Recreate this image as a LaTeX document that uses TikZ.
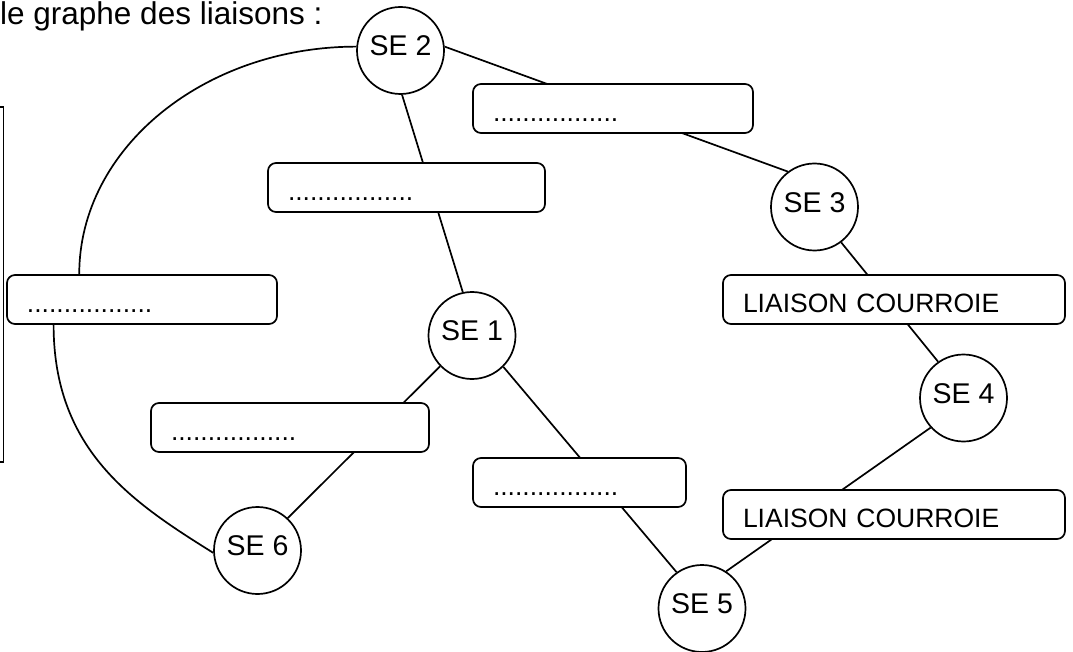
\documentclass[tikz,border=0pt]{standalone}
\usepackage{fontspec}
\setmainfont{Liberation Sans}
\usepackage{tikz}
\usetikzlibrary{positioning,backgrounds}

\tikzset{
	se/.style={draw, circle, fill=white, line width=1.7pt,
		minimum size=87pt, inner sep=0pt,
		font=\fontsize{28.5}{34}\selectfont,
		text height=20.5pt, text depth=10pt},
	liaison/.style={draw, rounded corners=8pt, fill=white, line width=1.7pt,
		inner xsep=20pt, inner ysep=0pt, align=left,
		text height=37.5pt, text depth=11.5pt,
		font=\fontsize{26.5}{32}\selectfont},
	trait/.style={line width=1.7pt}
}

\begin{document}
\begin{tikzpicture}[x=1pt, y=-1pt]
			\useasboundingbox (0,0) rectangle (1073,652);
			
			% Titre
			\node [anchor=base west,
				inner sep=0pt,
				font=\fontsize{31.5}{38}\selectfont
				] (titre) at (0,24.5) {le graphe des liaisons :};
			
			% cadre coupe a gauche
			\draw[trait] (0,107) -- (3.5,107) -- (3.5,462) -- (0,462);
			
			% Sous-ensembles
			\node [se] (se2) at (400.5,50.5) {SE 2};
			\node [se] (se1) at (472,335.5) {SE 1};
			\node [se] (se3) at (814.5,207) {SE 3};
			\node [se] (se4) at (963.5,398) {SE 4};
			\node [se] (se5) at (702,608.5) {SE 5};
			\node [se] (se6) at (257.5,550.5) {SE 6};
			
			% Liaisons SE 2
			\node [liaison,
				text width=240pt
				] (l23) at (613,108.5) {.................};
			\node [liaison,
				text width=237pt
				] (l12) at (406.5,187.5) {.................};
			\node [liaison,
				text width=230pt
				] (l26) at (142,299.5) {.................};
			
			% Liaisons SE 1
			\node [liaison,
				text width=238pt
				] (l16) at (290,427.5) {.................};
			\node [liaison,
				text width=173pt
				] (l15) at (579.5,482.5) {.................};
			
			% Courroies
			\node [liaison,
				text width=302pt
				] (l34) at (894,299.5) {LIAISON COURROIE};
			\node [liaison,
				text width=302pt
				] (l45) at (894,514.5) {LIAISON COURROIE};
			
			% Traits
			\begin{pgfonlayer}{background}
			\draw[trait] (se2.5) -- (se3.127);
			\draw[trait] (se2.272) -- (se1.102);
			\draw[trait] (se1.224) -- (se6.47);
			\draw[trait] (se1.315) -- (se5.125);
			\draw[trait] (se3.307) -- (se4.125);
			\draw[trait] (se4.222) -- (se5.57);
			\draw[trait] (se2.175) .. controls +(-152,0) and +(0,-126) .. (l26.158);
			\draw[trait] (l26.196) .. controls +(0,126) and +(-80,-50) .. (se6.183);
			\end{pgfonlayer}
		
\end{tikzpicture}
\end{document}
